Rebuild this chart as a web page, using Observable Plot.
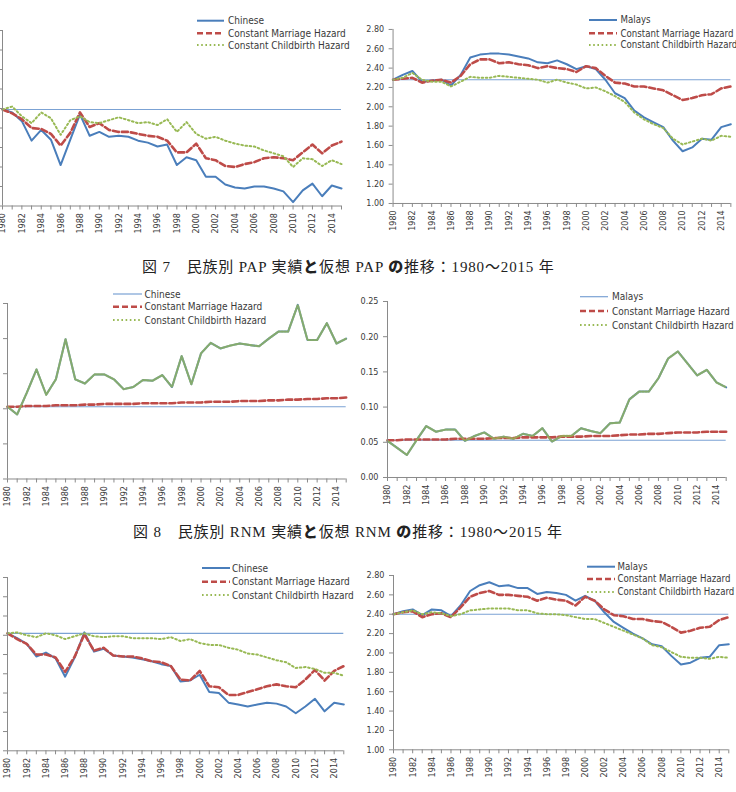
<!DOCTYPE html>
<html><head><meta charset="utf-8">
<script src="https://cdn.jsdelivr.net/npm/d3@7"></script>
<script src="https://cdn.jsdelivr.net/npm/@observablehq/plot@0.6"></script>
<style>
body{margin:0;background:#fff;}
#page{position:relative;width:736px;height:792px;overflow:hidden;background:#fff;}
.panel{position:absolute;}
.cap{position:absolute;font-family:"Liberation Serif","Noto Sans CJK JP",serif;font-size:15px;letter-spacing:0.85px;color:#222;white-space:nowrap;line-height:18px;}
.cap b{font-family:"Noto Sans CJK JP",sans-serif;font-weight:900;}
#leg{position:absolute;left:0;top:0;}
</style></head><body><div id="page"></div>
<script>
const years = [1980,1981,1982,1983,1984,1985,1986,1987,1988,1989,1990,1991,1992,1993,1994,1995,1996,1997,1998,1999,2000,2001,2002,2003,2004,2005,2006,2007,2008,2009,2010,2011,2012,2013,2014,2015];
const labelYears = [1980,1982,1984,1986,1988,1990,1992,1994,1996,1998,2000,2002,2004,2006,2008,2010,2012,2014];
const tfrTicks = [1.0,1.2,1.4,1.6,1.8,2.0,2.2,2.4,2.6,2.8];
const rnmTicks = [0,0.05,0.10,0.15,0.20,0.25];

// 図7 PAP
const tlActual   = [1.99,1.96,1.87,1.67,1.78,1.68,1.42,1.68,1.94,1.72,1.76,1.71,1.72,1.71,1.67,1.65,1.61,1.63,1.42,1.50,1.47,1.30,1.30,1.22,1.19,1.18,1.20,1.20,1.18,1.15,1.04,1.16,1.23,1.10,1.21,1.18];
const tlMarriage = [1.99,1.95,1.89,1.80,1.79,1.74,1.62,1.75,1.96,1.81,1.85,1.78,1.76,1.76,1.74,1.72,1.71,1.67,1.55,1.55,1.64,1.49,1.47,1.41,1.40,1.43,1.45,1.49,1.50,1.49,1.47,1.55,1.63,1.54,1.62,1.66];
const tlChild    = [1.99,2.02,1.92,1.85,1.96,1.90,1.73,1.88,1.92,1.86,1.85,1.88,1.91,1.88,1.85,1.86,1.83,1.89,1.76,1.86,1.74,1.69,1.71,1.67,1.64,1.62,1.61,1.57,1.54,1.51,1.40,1.49,1.48,1.41,1.47,1.43];
const tlRef = [1.99];
const trActual   = [2.28,2.33,2.37,2.26,2.27,2.28,2.22,2.33,2.51,2.54,2.55,2.55,2.54,2.52,2.50,2.46,2.45,2.48,2.44,2.39,2.42,2.39,2.28,2.14,2.09,1.96,1.89,1.84,1.79,1.65,1.54,1.58,1.67,1.66,1.79,1.82];
const trMarriage = [2.28,2.29,2.30,2.25,2.27,2.28,2.25,2.32,2.44,2.49,2.49,2.45,2.46,2.44,2.43,2.40,2.42,2.40,2.39,2.36,2.42,2.40,2.32,2.25,2.24,2.21,2.21,2.19,2.17,2.12,2.07,2.09,2.12,2.13,2.19,2.21];
const trChild    = [2.28,2.30,2.35,2.28,2.26,2.26,2.21,2.26,2.31,2.30,2.30,2.32,2.31,2.30,2.29,2.28,2.25,2.28,2.25,2.23,2.19,2.20,2.16,2.11,2.05,1.94,1.87,1.82,1.78,1.67,1.61,1.64,1.67,1.65,1.70,1.69];
const trRef = [2.28];

// 図8 RNM
const mlActual   = [0.103,0.092,0.123,0.156,0.120,0.142,0.199,0.142,0.136,0.149,0.149,0.142,0.128,0.131,0.141,0.140,0.148,0.131,0.175,0.135,0.179,0.194,0.186,0.190,0.193,0.191,0.189,0.200,0.210,0.210,0.248,0.198,0.198,0.222,0.193,0.200];
const mlMarriage = [0.103,0.103,0.104,0.104,0.104,0.105,0.105,0.105,0.106,0.106,0.107,0.107,0.107,0.107,0.108,0.108,0.108,0.108,0.109,0.109,0.109,0.110,0.110,0.110,0.111,0.111,0.111,0.112,0.112,0.113,0.113,0.114,0.114,0.115,0.115,0.116];
const mlChild    = [0.103,0.092,0.123,0.156,0.120,0.142,0.199,0.142,0.136,0.149,0.149,0.142,0.128,0.131,0.141,0.140,0.148,0.131,0.175,0.135,0.179,0.194,0.186,0.190,0.193,0.191,0.189,0.200,0.210,0.210,0.248,0.198,0.198,0.222,0.193,0.200];
const mlRef = [0.103];
const mrActual   = [0.052,0.042,0.032,0.053,0.073,0.065,0.068,0.068,0.052,0.059,0.064,0.055,0.058,0.055,0.062,0.059,0.070,0.051,0.059,0.059,0.070,0.066,0.063,0.077,0.078,0.111,0.122,0.122,0.141,0.169,0.179,0.162,0.145,0.153,0.135,0.128];
const mrMarriage = [0.053,0.053,0.054,0.054,0.054,0.054,0.054,0.055,0.055,0.055,0.055,0.056,0.056,0.056,0.057,0.057,0.057,0.057,0.058,0.058,0.058,0.059,0.059,0.059,0.060,0.061,0.061,0.062,0.062,0.063,0.064,0.064,0.064,0.065,0.065,0.065];
const mrChild    = [0.052,0.042,0.032,0.053,0.073,0.065,0.068,0.068,0.052,0.059,0.064,0.055,0.058,0.055,0.062,0.059,0.070,0.051,0.059,0.059,0.070,0.066,0.063,0.077,0.078,0.111,0.122,0.122,0.141,0.169,0.179,0.162,0.145,0.153,0.135,0.128];
const mrRef = [0.053];

// TFR
const blActual   = [2.22,2.17,2.11,1.98,2.02,1.96,1.77,1.97,2.23,2.03,2.06,1.99,1.98,1.97,1.95,1.93,1.90,1.88,1.72,1.73,1.79,1.61,1.60,1.50,1.48,1.46,1.48,1.50,1.49,1.46,1.39,1.46,1.54,1.41,1.50,1.48];
const blMarriage = [2.22,2.16,2.11,2.00,2.00,1.97,1.82,1.98,2.21,2.04,2.07,1.99,1.98,1.98,1.96,1.93,1.92,1.88,1.74,1.73,1.83,1.67,1.66,1.58,1.58,1.61,1.64,1.67,1.69,1.67,1.66,1.74,1.84,1.73,1.83,1.88];
const blChild    = [2.22,2.23,2.20,2.18,2.22,2.20,2.16,2.19,2.22,2.19,2.18,2.19,2.19,2.17,2.17,2.17,2.16,2.18,2.14,2.16,2.12,2.10,2.10,2.07,2.05,2.01,2.00,1.97,1.94,1.92,1.86,1.87,1.85,1.81,1.81,1.78];
const blRef = [2.22];
const brActual   = [2.40,2.43,2.45,2.39,2.45,2.44,2.38,2.49,2.64,2.70,2.73,2.69,2.70,2.67,2.67,2.61,2.63,2.62,2.60,2.54,2.59,2.54,2.42,2.32,2.26,2.20,2.15,2.09,2.07,1.97,1.88,1.90,1.95,1.96,2.08,2.09];
const brMarriage = [2.40,2.42,2.43,2.37,2.40,2.41,2.37,2.47,2.58,2.62,2.64,2.60,2.60,2.59,2.58,2.54,2.57,2.55,2.54,2.49,2.58,2.54,2.45,2.39,2.38,2.35,2.35,2.33,2.32,2.27,2.21,2.23,2.26,2.27,2.34,2.37];
const brChild    = [2.40,2.42,2.44,2.40,2.42,2.41,2.38,2.40,2.44,2.45,2.46,2.46,2.46,2.44,2.44,2.41,2.40,2.40,2.39,2.37,2.35,2.35,2.31,2.27,2.23,2.19,2.15,2.08,2.06,2.01,1.96,1.95,1.95,1.94,1.96,1.95];
const brRef = [2.40];

const seriesLabels = ["Constant Marriage Hazard","Constant Childbirth Hazard"];
const caption7 = ["図 7　民族別 PAP 実績", "と", "仮想 PAP ", "の", "推移：1980～2015 年"];
const caption8 = ["図 8　民族別 RNM 実績", "と", "仮想 RNM ", "の", "推移：1980～2015 年"];

const BLUE="#4a7ebb", REFBLUE="#7ba2d4", RED="#be4b48", GREEN="#98b954", AX="#8a8a8a", TXT="#3a3a3a";
const FONT='"DejaVu Sans Condensed","DejaVu Sans",sans-serif';
const page = document.getElementById("page");

function panel(g){
  const mL=46,mR=6,mT=6,mB=40;
  const W=mL+(g.R-g.L)+mR, H=mT+(g.B-g.T)+mB;
  const rows = years.map((y,i)=>({year:y,a:g.actual[i],m:g.marriage[i],c:g.child[i]}));
  const marks = [
    Plot.ruleY(g.ref,{stroke:REFBLUE,strokeWidth:1.1}),
    Plot.line(rows,{x:"year",y:"a",stroke:BLUE,strokeWidth:2}),
    Plot.line(rows,{x:"year",y:"m",stroke:RED,strokeWidth:2.6,strokeDasharray:"6,3"}),
    Plot.line(rows,{x:"year",y:"c",stroke:GREEN,strokeWidth:g.overlay?2.2:2,strokeDasharray:g.overlay?"1.5,1.5":"1.6,2.6",strokeOpacity:g.overlay?0.75:1}),
    Plot.ruleX([1980],{stroke:AX}),
    Plot.ruleY([g.ymin],{stroke:AX}),
    Plot.axisX({ticks:years,tickSize:4,stroke:AX,label:null,tickFormat:()=>""}),
    Plot.axisX({ticks:labelYears,tickSize:0,tickRotate:-90,tickPadding:7,fill:TXT,label:null,tickFormat:d=>String(d)}),
    Plot.axisY({ticks:g.ticks,tickSize:4,stroke:AX,label:null,tickFormat:()=>""})
  ];
  if(!g.hideY) marks.push(Plot.axisY({ticks:g.ticks,tickSize:0,tickPadding:9,fill:TXT,label:null,tickFormat:d3.format(".2f")}));
  const chart = Plot.plot({
    width:W,height:H,marginLeft:mL,marginRight:mR,marginTop:mT,marginBottom:mB,
    x:{domain:[1980,2015],label:null}, y:{domain:[g.ymin,g.ymax],label:null},
    style:{fontFamily:FONT,fontSize:"9px",color:TXT,background:"transparent",overflow:"visible"},
    marks
  });
  const d=document.createElement("div");
  d.className="panel";
  d.style.left=(g.L-mL)+"px"; d.style.top=(g.T-mT)+"px";
  d.appendChild(chart);
  page.appendChild(d);
}

panel({L:2,R:341,T:29.5,B:205,ymin:1,ymax:2.8,ticks:tfrTicks,ref:tlRef,actual:tlActual,marriage:tlMarriage,child:tlChild,hideY:true});
panel({L:392.7,R:733.7,T:29.3,B:205,ymin:1,ymax:2.8,ticks:tfrTicks,ref:trRef,actual:trActual,marriage:trMarriage,child:trChild});
panel({L:7.3,R:346,T:302.5,B:478,ymin:0,ymax:0.25,ticks:rnmTicks,ref:mlRef,actual:mlActual,marriage:mlMarriage,child:mlChild,overlay:true,hideY:true});
panel({L:387.3,R:726,T:301,B:477,ymin:0,ymax:0.25,ticks:rnmTicks,ref:mrRef,actual:mrActual,marriage:mrMarriage,child:mrChild,overlay:true});
panel({L:6.7,R:343,T:576.7,B:750,ymin:1,ymax:2.8,ticks:tfrTicks,ref:blRef,actual:blActual,marriage:blMarriage,child:blChild,hideY:true});
panel({L:392.7,R:728,T:575,B:749.3,ymin:1,ymax:2.8,ticks:tfrTicks,ref:brRef,actual:brActual,marriage:brMarriage,child:brChild});

// legends
const ns="http://www.w3.org/2000/svg";
const svg=document.createElementNS(ns,"svg");
svg.setAttribute("id","leg"); svg.setAttribute("width",736); svg.setAttribute("height",792);
page.appendChild(svg);
function legend(x1,x2,tx,ys,first,thin,fs){
  const names=[first].concat(seriesLabels);
  const styles=[
    {stroke:thin?REFBLUE:BLUE,w:thin?1.2:2,dash:null},
    {stroke:RED,w:2.6,dash:"6,3"},
    {stroke:GREEN,w:2,dash:"1.6,2.6"}
  ];
  names.forEach((n,i)=>{
    const l=document.createElementNS(ns,"line");
    l.setAttribute("x1",x1);l.setAttribute("x2",x2);l.setAttribute("y1",ys[i]);l.setAttribute("y2",ys[i]);
    l.setAttribute("stroke",styles[i].stroke);l.setAttribute("stroke-width",styles[i].w);
    if(styles[i].dash) l.setAttribute("stroke-dasharray",styles[i].dash);
    svg.appendChild(l);
    const t=document.createElementNS(ns,"text");
    t.setAttribute("x",tx);t.setAttribute("y",ys[i]);t.setAttribute("dy","0.35em");
    t.setAttribute("fill",TXT);t.setAttribute("font-family",FONT);t.setAttribute("font-size",(fs||10)+"px");
    t.textContent=n; svg.appendChild(t);
  });
}
legend(197,224,228,[20.7,33.3,45],"Chinese",false);
legend(589,617,620.5,[20,33.3,45],"Malays",false,9.6);
legend(113,142,144.5,[294,306.7,320],"Chinese",true);
legend(580,608,612,[296.7,311,325],"Malays",true);
legend(202,230,232,[568,581.7,595],"Chinese",false);
legend(587,615,617.5,[566.7,579,592],"Malays",false,9.6);

function caption(parts,left,top){
  const d=document.createElement("div");
  d.className="cap"; d.style.left=left+"px"; d.style.top=top+"px";
  parts.forEach((p,i)=>{
    const s=document.createElement(i%2===1?"b":"span");
    s.textContent=p; d.appendChild(s);
  });
  page.appendChild(d);
}
caption(caption7,142,257);
caption(caption8,133,522);
</script></body></html>
